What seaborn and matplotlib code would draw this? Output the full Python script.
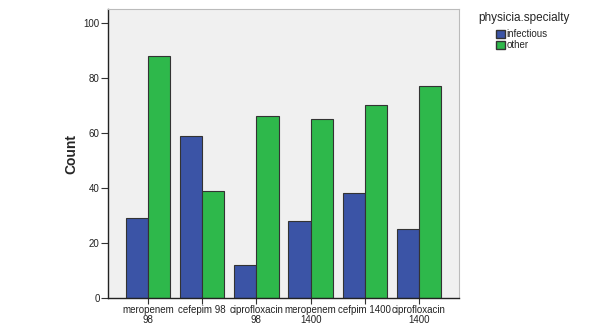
import matplotlib
matplotlib.use("Agg")
import matplotlib.pyplot as plt
import seaborn as sns
import pandas as pd
from matplotlib.patches import Patch

categories = ["meropenem\n98", "cefepim 98", "ciprofloxacin\n98", "meropenem\n1400", "cefpim 1400", "ciprofloxacin\n1400"]
infectious = [29, 59, 12, 28, 38, 25]
other = [88, 39, 66, 65, 70, 77]
groups = ["infectious", "other"]
colors = {"infectious": "#3b54a6", "other": "#2eb84b"}

df = pd.DataFrame({
    "drug": categories * 2,
    "specialty": ["infectious"] * len(categories) + ["other"] * len(categories),
    "count": infectious + other,
})

sns.set_style("white")
plt.rcParams['font.family'] = ['Liberation Sans', 'DejaVu Sans']
plt.rcParams['xtick.bottom'] = True
plt.rcParams['ytick.left'] = True

fig = plt.figure(figsize=(6.08, 3.25), dpi=100)
ax = fig.add_axes([108/608, 27/325, (459-108)/608, (298-9)/325])
ax.set_facecolor("#f0f0f0")
sns.barplot(data=df, x="drug", y="count", hue="specialty", hue_order=groups,
            palette=colors, order=categories, width=0.82, ax=ax,
            edgecolor="#333333", linewidth=0.8, legend=False, saturation=1)
ax.set_xlim(-0.74, 5.74)
ax.set_ylim(0, 105)
ax.set_yticks([0, 20, 40, 60, 80, 100])
ax.set_xlabel("")
ax.set_ylabel("Count", fontsize=10, fontweight="bold", labelpad=4)
ax.tick_params(axis="both", labelsize=7, length=5, width=0.8, color="#333333",
               labelcolor="#222222", direction="out", bottom=True, left=True)
ax.tick_params(axis="x", pad=1, length=4)
ax.tick_params(axis="y", pad=1)
for lbl in ax.get_xticklabels():
    lbl.set_linespacing(0.95)
for side in ["top", "right"]:
    ax.spines[side].set_color("#bbbbbb")
    ax.spines[side].set_linewidth(0.8)
for side in ["left", "bottom"]:
    ax.spines[side].set_color("#222222")
    ax.spines[side].set_linewidth(1.0)

fig.text(478/608, 1 - 18/325, "physicia.specialty", fontsize=8.5, va="center", ha="left")
handles = [Patch(facecolor=colors[g], edgecolor="#333333", label=g) for g in groups]
fig.legend(handles=handles, loc="upper left", bbox_to_anchor=(496/608, 1 - 29/325),
           frameon=False, fontsize=7, handlelength=0.9, handleheight=0.9,
           handletextpad=0.2, labelspacing=0.15, borderaxespad=0, borderpad=0)

fig.savefig("out.png", dpi=100)
